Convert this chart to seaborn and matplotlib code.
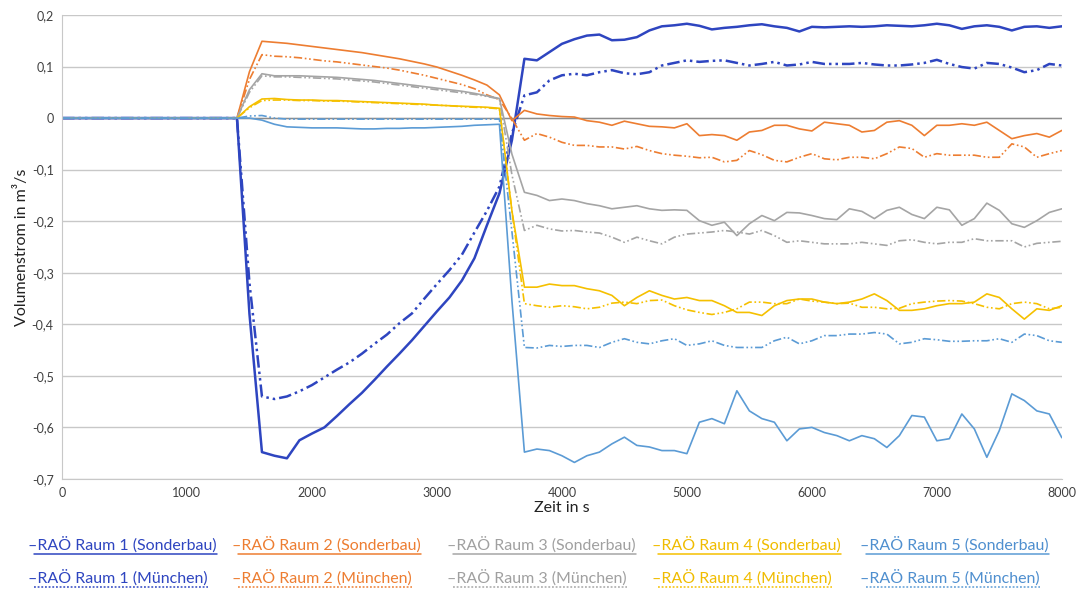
import matplotlib
matplotlib.use("Agg")
import matplotlib.pyplot as plt
from matplotlib.ticker import FuncFormatter, MultipleLocator
from matplotlib.lines import Line2D
from matplotlib.colors import to_hex
import seaborn as sns
import pandas as pd

# Zeitachse in s
zeit = [0, 1400, 1500, 1600, 1700, 1800, 1900, 2000, 2100, 2200, 2300, 2400,
        2500, 2600, 2700, 2800, 2900, 3000, 3100, 3200, 3300, 3400, 3500, 3600,
        3700, 3800, 3900, 4000, 4100, 4200, 4300, 4400, 4500, 4600, 4700, 4800,
        4900, 5000, 5100, 5200, 5300, 5400, 5500, 5600, 5700, 5800, 5900, 6000,
        6100, 6200, 6300, 6400, 6500, 6600, 6700, 6800, 6900, 7000, 7100, 7200,
        7300, 7400, 7500, 7600, 7700, 7800, 7900, 8000]

raum1_sonderbau = [0, 0, -0.38, -0.648, -0.655, -0.66, -0.625, -0.612, -0.60, -0.578, -0.555, -0.533,
                   -0.508, -0.482, -0.457, -0.431, -0.403, -0.375, -0.348, -0.315, -0.272, -0.208, -0.146, -0.043,
                   0.115, 0.112, 0.128, 0.144, 0.153, 0.16, 0.162, 0.151, 0.152, 0.157, 0.170, 0.178,
                   0.18, 0.183, 0.179, 0.172, 0.175, 0.177, 0.18, 0.182, 0.178,
                   0.175, 0.168, 0.177, 0.176, 0.177, 0.178, 0.177, 0.178, 0.18, 0.179, 0.178, 0.18,
                   0.183, 0.18, 0.173, 0.178, 0.18, 0.177, 0.170, 0.177, 0.178, 0.175, 0.178]
raum1_muenchen = [0, 0, -0.32, -0.54, -0.545, -0.54, -0.53, -0.518, -0.503, -0.488, -0.474, -0.457,
                  -0.438, -0.42, -0.398, -0.379, -0.35, -0.322, -0.295, -0.265, -0.222, -0.18, -0.133, -0.03,
                  0.044, 0.05, 0.073, 0.083, 0.086, 0.083, 0.089, 0.093, 0.087, 0.085, 0.089, 0.102,
                  0.107, 0.112, 0.109, 0.111, 0.112, 0.107, 0.102, 0.105, 0.109,
                  0.102, 0.104, 0.109, 0.105, 0.105, 0.105, 0.107, 0.104, 0.102, 0.102, 0.104, 0.107,
                  0.113, 0.105, 0.099, 0.096, 0.107, 0.105, 0.098, 0.089, 0.093, 0.105, 0.102]
raum2_sonderbau = [0, 0, 0.09, 0.149, 0.147, 0.145, 0.142, 0.139, 0.136, 0.133, 0.130, 0.127,
                   0.123, 0.119, 0.115, 0.110, 0.105, 0.099, 0.091, 0.083, 0.074, 0.064, 0.045, -0.005,
                   0.015, 0.008, 0.005, 0.003, 0.002, -0.005, -0.008, -0.014, -0.006, -0.011, -0.016, -0.017,
                   -0.019, -0.011, -0.034, -0.032, -0.034, -0.043, -0.027, -0.024, -0.014,
                   -0.014, -0.021, -0.025, -0.008, -0.011, -0.014, -0.027, -0.024, -0.008, -0.005, -0.014, -0.034,
                   -0.014, -0.014, -0.011, -0.014, -0.008, -0.024, -0.04, -0.034, -0.03, -0.037, -0.024]
raum2_muenchen = [0, 0, 0.075, 0.123, 0.12, 0.119, 0.117, 0.114, 0.111, 0.109, 0.106, 0.103,
                  0.1, 0.097, 0.093, 0.088, 0.083, 0.077, 0.071, 0.065, 0.057, 0.045, 0.036, -0.001,
                  -0.043, -0.03, -0.037, -0.047, -0.053, -0.053, -0.056, -0.056, -0.06, -0.055, -0.063, -0.069,
                  -0.072, -0.074, -0.077, -0.076, -0.085, -0.082, -0.063, -0.071, -0.082,
                  -0.085, -0.076, -0.069, -0.079, -0.081, -0.076, -0.076, -0.079, -0.069, -0.056, -0.059, -0.076,
                  -0.069, -0.072, -0.072, -0.072, -0.076, -0.076, -0.05, -0.056, -0.076, -0.069, -0.063]
raum3_sonderbau = [0, 0, 0.055, 0.086, 0.082, 0.082, 0.082, 0.081, 0.080, 0.079, 0.077, 0.075,
                   0.073, 0.07, 0.067, 0.064, 0.061, 0.058, 0.055, 0.052, 0.048, 0.043, 0.038, -0.07,
                   -0.144, -0.15, -0.16, -0.157, -0.16, -0.166, -0.17, -0.176, -0.173, -0.17, -0.176, -0.179,
                   -0.178, -0.179, -0.199, -0.208, -0.202, -0.228, -0.205, -0.189, -0.199,
                   -0.183, -0.184, -0.189, -0.195, -0.197, -0.176, -0.181, -0.195, -0.179, -0.173, -0.187, -0.195,
                   -0.173, -0.178, -0.208, -0.195, -0.165, -0.179, -0.205, -0.212, -0.199, -0.183, -0.176]
raum3_muenchen = [0, 0, 0.05, 0.082, 0.08, 0.08, 0.079, 0.078, 0.077, 0.076, 0.074, 0.072,
                  0.07, 0.067, 0.064, 0.061, 0.058, 0.055, 0.052, 0.049, 0.046, 0.042, 0.037, -0.11,
                  -0.218, -0.208, -0.215, -0.219, -0.218, -0.221, -0.223, -0.231, -0.241, -0.231, -0.238, -0.244,
                  -0.231, -0.225, -0.223, -0.221, -0.218, -0.221, -0.225, -0.218, -0.228,
                  -0.241, -0.238, -0.241, -0.244, -0.244, -0.244, -0.241, -0.244, -0.247, -0.238, -0.236, -0.241,
                  -0.244, -0.241, -0.241, -0.234, -0.238, -0.238, -0.238, -0.25, -0.243, -0.241, -0.239]
raum4_sonderbau = [0, 0, 0.022, 0.037, 0.038, 0.036, 0.035, 0.035, 0.034, 0.034, 0.033, 0.032,
                   0.031, 0.03, 0.029, 0.028, 0.027, 0.025, 0.024, 0.023, 0.022, 0.021, 0.019, -0.18,
                   -0.328, -0.328, -0.322, -0.325, -0.325, -0.331, -0.335, -0.344, -0.364, -0.348, -0.335, -0.344,
                   -0.351, -0.348, -0.354, -0.354, -0.364, -0.377, -0.377, -0.383, -0.364,
                   -0.354, -0.351, -0.351, -0.357, -0.36, -0.357, -0.351, -0.341, -0.354, -0.373, -0.373, -0.37,
                   -0.364, -0.36, -0.36, -0.357, -0.341, -0.348, -0.37, -0.39, -0.37, -0.373, -0.364]
raum4_muenchen = [0, 0, 0.02, 0.034, 0.035, 0.035, 0.034, 0.034, 0.033, 0.033, 0.032, 0.031,
                  0.03, 0.029, 0.028, 0.027, 0.026, 0.025, 0.024, 0.022, 0.021, 0.02, 0.018, -0.18,
                  -0.36, -0.364, -0.367, -0.364, -0.366, -0.37, -0.367, -0.359, -0.357, -0.36, -0.354, -0.353,
                  -0.364, -0.372, -0.377, -0.381, -0.377, -0.37, -0.357, -0.357, -0.36,
                  -0.36, -0.351, -0.355, -0.357, -0.36, -0.359, -0.367, -0.367, -0.37, -0.369, -0.36, -0.357,
                  -0.355, -0.354, -0.355, -0.36, -0.367, -0.37, -0.36, -0.357, -0.36, -0.37, -0.367]
raum5_sonderbau = [0, 0, 0.0, -0.004, -0.012, -0.017, -0.018, -0.019, -0.019, -0.019, -0.02, -0.021,
                   -0.021, -0.02, -0.02, -0.019, -0.019, -0.018, -0.017, -0.016, -0.014, -0.013, -0.012, -0.354,
                   -0.648, -0.642, -0.645, -0.655, -0.668, -0.655, -0.648, -0.632, -0.619, -0.635, -0.638, -0.645,
                   -0.645, -0.651, -0.59, -0.583, -0.593, -0.529, -0.568, -0.583, -0.59,
                   -0.626, -0.603, -0.6, -0.61, -0.616, -0.626, -0.616, -0.622, -0.639, -0.616, -0.577, -0.58,
                   -0.626, -0.622, -0.574, -0.603, -0.658, -0.606, -0.535, -0.548, -0.568, -0.574, -0.62]
raum5_muenchen = [0, 0, 0.004, 0.005, 0.0, -0.002, -0.002, -0.002, -0.002, -0.002, -0.002, -0.002,
                  -0.002, -0.002, -0.002, -0.002, -0.002, -0.002, -0.002, -0.002, -0.002, -0.002, -0.002, -0.22,
                  -0.445, -0.446, -0.441, -0.443, -0.441, -0.441, -0.445, -0.435, -0.428, -0.435, -0.438, -0.432,
                  -0.428, -0.441, -0.438, -0.432, -0.441, -0.445, -0.445, -0.445, -0.432,
                  -0.425, -0.438, -0.432, -0.422, -0.422, -0.419, -0.419, -0.416, -0.419, -0.438, -0.435, -0.428,
                  -0.43, -0.433, -0.433, -0.432, -0.432, -0.428, -0.435, -0.419, -0.422, -0.432, -0.435]

raeume = ["Raum 1", "Raum 2", "Raum 3", "Raum 4", "Raum 5"]
varianten = ["Sonderbau", "München"]
farben = {"Raum 1": "#2E45C0", "Raum 2": "#ED7D31", "Raum 3": "#A5A5A5",
          "Raum 4": "#F5C000", "Raum 5": "#5B9BD5"}
textfarben = {"Raum 1": "#2E45C0", "Raum 2": "#ED7D31", "Raum 3": "#A0A0A0",
              "Raum 4": "#F0BC00", "Raum 5": "#4F8FCF"}

serien = {
    ("Raum 1", "Sonderbau"): raum1_sonderbau, ("Raum 1", "München"): raum1_muenchen,
    ("Raum 2", "Sonderbau"): raum2_sonderbau, ("Raum 2", "München"): raum2_muenchen,
    ("Raum 3", "Sonderbau"): raum3_sonderbau, ("Raum 3", "München"): raum3_muenchen,
    ("Raum 4", "Sonderbau"): raum4_sonderbau, ("Raum 4", "München"): raum4_muenchen,
    ("Raum 5", "Sonderbau"): raum5_sonderbau, ("Raum 5", "München"): raum5_muenchen,
}

rows = []
for (raum, var), werte in serien.items():
    df_s = pd.DataFrame({"Zeit": zeit, "Volumenstrom": werte})
    df_s["Raum"] = raum
    df_s["Variante"] = var
    rows.append(df_s)
df = pd.concat(rows, ignore_index=True)

sns.set_style("white")
plt.rcParams["font.family"] = ["Lato", "DejaVu Sans"]

fig = plt.figure(figsize=(10.78, 5.92), dpi=100)
ax = fig.add_axes([0.0575, 0.191, 0.9275, 0.7837])

strich_punkt = (5, 1.6, 1, 1.6, 1, 1.6)
sns.lineplot(data=df, x="Zeit", y="Volumenstrom", hue="Raum", style="Variante",
             hue_order=raeume, style_order=varianten, palette=farben,
             dashes={"Sonderbau": "", "München": strich_punkt},
             estimator=None, sort=False, linewidth=1.2, legend=False, ax=ax)

# Raum 1 etwas kräftiger wie im Original
for line in ax.lines:
    if to_hex(line.get_color()).lower() == farben["Raum 1"].lower():
        line.set_linewidth(1.8)

ax.set_xlim(0, 8000)
ax.set_ylim(-0.7, 0.2)
ax.xaxis.set_major_locator(MultipleLocator(1000))
ax.yaxis.set_major_locator(MultipleLocator(0.1))
ax.yaxis.set_major_formatter(FuncFormatter(
    lambda v, p: "0" if abs(v) < 1e-9 else f"{v:.1f}".replace(".", ",")))
ax.grid(axis="y", color="#C8C8C8", linewidth=1.0)
ax.set_axisbelow(True)
ax.axhline(0, color="#8C8C8C", linewidth=1.0, zorder=1)
for side in ["top", "right"]:
    ax.spines[side].set_visible(False)
ax.spines["left"].set_color("#C8C8C8")
ax.spines["bottom"].set_color("#C8C8C8")
ax.tick_params(axis="both", length=0, labelsize=9, colors="#404040", pad=6)
ax.set_xlabel("Zeit in s", fontsize=11.5, color="#222222", labelpad=1)
ax.set_ylabel("Volumenstrom in m³/s", fontsize=11.5, color="#222222", labelpad=2)

# Legende als farbiger Text mit Unterstrich
spalten_x = [28, 232, 447, 652, 860]
zeilen_y = [545, 578]
texte = []
for j, var in enumerate(varianten):
    for i, raum in enumerate(raeume):
        t = fig.text(spalten_x[i] / 1078, 1 - zeilen_y[j] / 592,
                     f"–RAÖ {raum} ({var})", color=textfarben[raum],
                     fontsize=11.5, va="center", ha="left")
        texte.append((t, raum, var))

fig.canvas.draw()
renderer = fig.canvas.get_renderer()
for t, raum, var in texte:
    bb = t.get_window_extent(renderer).transformed(fig.transFigure.inverted())
    ls = "-" if var == "Sonderbau" else (0, (1.2, 1.2))
    fig.add_artist(Line2D([bb.x0 + 0.006, bb.x1], [bb.y0 - 0.002, bb.y0 - 0.002],
                          transform=fig.transFigure, color=farben[raum],
                          linewidth=1.1, linestyle=ls))

fig.savefig("out.png", dpi=100)
